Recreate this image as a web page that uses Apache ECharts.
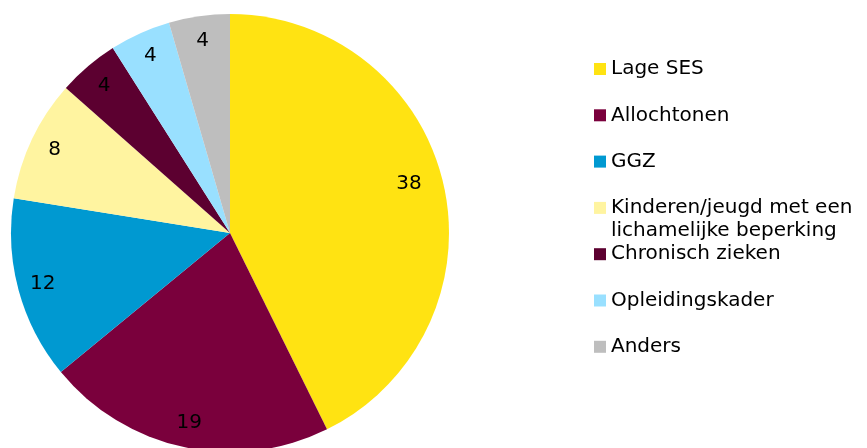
<!DOCTYPE html>
<html>
<head>
<meta charset="utf-8">
<script src="https://cdn.jsdelivr.net/npm/echarts@6/dist/echarts.min.js"></script>
<style>
html, body { margin: 0; padding: 0; background: #fff; }
#container { width: 867px; height: 448px; }
</style>
</head>
<body>
<div id="container"></div>
<script>
// 数据
var categories = ['Lage SES', 'Allochtonen', 'GGZ', 'Kinderen/jeugd met een lichamelijke beperking', 'Chronisch zieken', 'Opleidingskader', 'Anders'];
var values = [38, 19, 12, 8, 4, 4, 4];
var colors = ['#FFE312', '#7A003C', '#0099D1', '#FFF4A0', '#5C0030', '#99E0FF', '#BEBEBE'];

var myChart = echarts.init(document.getElementById('container'));

var pieData = categories.map(function (name, i) {
    return {name: name, value: values[i], itemStyle: {color: colors[i]}};
});
// 标签环（透明），让数字靠近外圈
var labelData = categories.map(function (name, i) {
    return {name: name, value: values[i], itemStyle: {color: 'rgba(0,0,0,0)'}};
});

var font = 'DejaVu Sans';

var option = {
    animation: false,
    color: colors,
    legend: {
        orient: 'vertical',
        left: 594,
        top: 57,
        padding: 0,
        itemWidth: 12,
        itemHeight: 12,
        itemGap: 22.3,
        icon: 'rect',
        data: categories,
        formatter: function (name) {
            // 长标签第二行另用 graphic 画
            return name.indexOf('Kinderen') === 0 ? 'Kinderen/jeugd met een' : name;
        },
        textStyle: {fontFamily: font, fontSize: 20, color: '#000', lineHeight: 24, padding: 0}
    },
    graphic: [{
        type: 'text',
        left: 611,
        top: 221,
        style: {text: 'lichamelijke beperking', fontFamily: font, fontSize: 20, fill: '#000'}
    }],
    series: [
        {
            type: 'pie',
            center: [230, 233],
            radius: [0, 219],
            startAngle: 90,
            silent: true,
            label: {show: false},
            labelLine: {show: false},
            data: pieData
        },
        {
            type: 'pie',
            center: [230, 233],
            radius: [163, 219],
            startAngle: 90,
            silent: true,
            label: {
                show: true,
                position: 'inside',
                formatter: '{c}',
                fontFamily: font,
                fontSize: 20,
                color: '#000'
            },
            // 最大扇区的数字稍微往里
            labelLayout: function (params) {
                if (params.dataIndex === 0) {
                    return {dx: -10, dy: -5};
                }
            },
            labelLine: {show: false},
            data: labelData
        }
    ]
};
myChart.setOption(option, true);

window.onresize = function () {
    myChart.resize();
};
</script>
</body>
</html>
